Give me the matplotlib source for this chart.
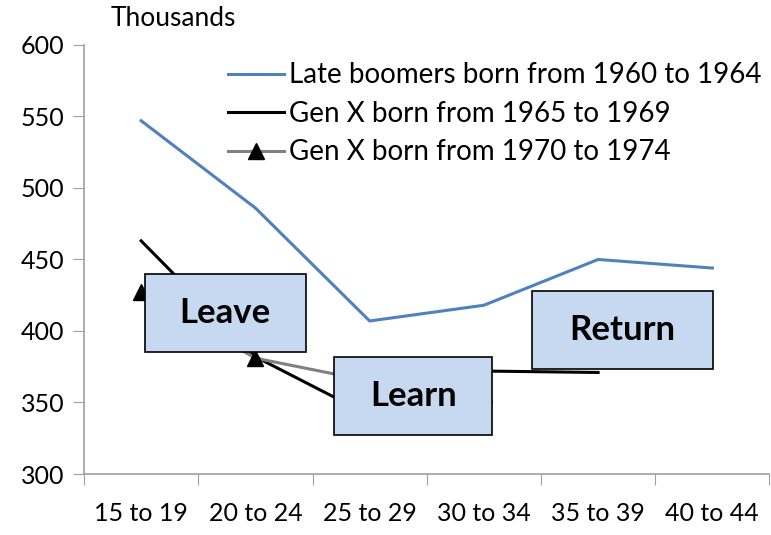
import matplotlib
matplotlib.use('Agg')
import matplotlib.pyplot as plt
from matplotlib.patches import Rectangle

plt.rcParams['font.family'] = ['Lato', 'DejaVu Sans']

# data (thousands)
age_groups = ['15 to 19', '20 to 24', '25 to 29', '30 to 34', '35 to 39', '40 to 44']
late_boomers = [547, 486, 407, 418, 450, 444]
genx_6569 = [463, 382, 341, 372, 371]
genx_7074 = [427, 381, 365, 356]

labels = ['Late boomers born from 1960 to 1964',
          'Gen X born from 1965 to 1969',
          'Gen X born from 1970 to 1974']

fig = plt.figure(figsize=(7.71, 5.35), dpi=100)
ax = fig.add_axes([0.109, 0.114, 0.889, 0.802])

xpos = [i + 0.5 for i in range(len(age_groups))]

ax.plot(xpos[:len(late_boomers)], late_boomers, color='#4F81BD', lw=2.2, label=labels[0], zorder=3)
ax.plot(xpos[:len(genx_6569)], genx_6569, color='black', lw=2.2, label=labels[1], zorder=3)
ax.plot(xpos[:len(genx_7074)], genx_7074, color='#808080', lw=2.2, marker='^',
        markersize=12, markerfacecolor='black', markeredgecolor='black', label=labels[2], zorder=3)

ax.set_xlim(0, 6)
ax.set_ylim(300, 600)
ax.set_yticks(range(300, 601, 50))
ax.set_xticks(range(0, 7))
ax.set_xticklabels([])
ax.set_xticks(xpos, minor=True)
ax.set_xticklabels(age_groups, minor=True)
ax.tick_params(axis='x', which='major', length=8, color='#A0A0A0', direction='out')
ax.tick_params(axis='x', which='minor', length=0, pad=20, labelsize=18)
ax.tick_params(axis='y', length=8, color='#A0A0A0', labelsize=18, pad=6)

for s in ['top', 'right']:
    ax.spines[s].set_visible(False)
for s in ['left', 'bottom']:
    ax.spines[s].set_color('#A0A0A0')
    ax.spines[s].set_linewidth(1.2)

fig.text(0.143, 0.965, 'Thousands', fontsize=19, va='center')

# annotation boxes
boxes = [('Leave', 0.530, 1.939, 385.3, 439.9),
         ('Learn', 2.191, 3.574, 327.3, 381.8),
         ('Return', 3.922, 5.504, 373.4, 428.0)]
for txt, x0, x1, y0, y1 in boxes:
    ax.add_patch(Rectangle((x0, y0), x1 - x0, y1 - y0, facecolor='#C6D9F1',
                           edgecolor='black', lw=1.2, zorder=5))
    ax.text((x0 + x1) / 2, (y0 + y1) / 2, txt, fontsize=25, fontweight='bold',
            ha='center', va='center', zorder=6)

leg = ax.legend(loc='upper right', bbox_to_anchor=(1.005, 0.985), frameon=False,
                fontsize=20, handlelength=2.0, handletextpad=0.2, labelspacing=0.45,
                borderaxespad=0)

fig.savefig('out.png', dpi=100)
